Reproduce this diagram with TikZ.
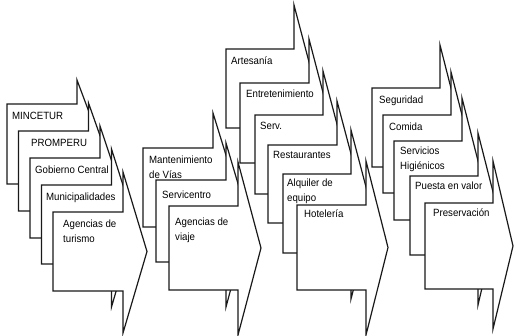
\documentclass[tikz,border=0pt]{standalone}
\usepackage{fontspec}
\setmainfont{Liberation Sans}[FakeStretch=0.92]
\tikzset{
  arrowbox/.style={draw=black!90, line width=1.2pt, fill=white, line join=miter},
  lbl/.style={anchor=north west, inner sep=0pt, align=left, font=\fontsize{10.5}{15}\selectfont}
}
% #1 x0, #2 y0, #3 w, #4 h, #5 top flange, #6 bottom flange, #7 head length
\newcommand{\carrow}[7]{%
  \draw[arrowbox] (#1,#2) -- ({#1+#3},#2) -- ({#1+#3},{#2-#5}) -- ({#1+#3+#7},{#2+#4/2}) -- ({#1+#3},{#2+#4+#6}) -- ({#1+#3},{#2+#4}) -- (#1,{#2+#4}) -- cycle;
}
\begin{document}
\begin{tikzpicture}[x=1pt,y=-1pt]
\useasboundingbox (0,0) rectangle (515,336);
% group 1
\carrow{7}{104}{70}{80}{24}{42}{24}
\node[lbl] (a1) at (12,112) {MINCETUR};
\carrow{18.5}{131}{70}{80}{28}{42}{24}
\node[lbl] (a2) at (31,139) {PROMPERU};
\carrow{30}{158}{70}{80}{32}{42}{24}
\node[lbl] (a3) at (35,166) {Gobierno Central};
\carrow{41.5}{185}{70}{79}{36}{43}{24}
\node[lbl] (a4) at (46,193) {Municipalidades};
\carrow{53}{212}{70}{79}{40}{42}{24}
\node[lbl] (a5) at (63,220) {Agencias de\\turismo};
% group 2
\carrow{143}{148}{70}{79}{35}{44}{23}
\node[lbl] (b1) at (149,156) {Mantenimiento\\de Vías};
\carrow{156}{180}{70}{82}{37}{45}{23}
\node[lbl] (b2) at (162,191) {Servicentro};
\carrow{169}{206}{69}{84}{44}{45}{23}
\node[lbl] (b3) at (175,218) {Agencias de\\viaje};
% group 3
\carrow{226}{49}{68}{79}{44}{44}{22}
\node[lbl] (c1) at (231,57) {Artesanía};
\carrow{240}{83}{69}{80}{44}{44}{22}
\node[lbl] (c2) at (246,90) {Entretenimiento};
\carrow{255}{115}{68}{79}{44}{44}{22}
\node[lbl] (c3) at (260,122) {Serv.};
\carrow{268}{145}{69}{78}{44}{44}{22}
\node[lbl] (c4) at (273,151) {Restaurantes};
\carrow{283}{174}{68}{79}{44}{46}{22}
\node[lbl] (c5) at (287,179) {Alquiler de\\equipo};
\carrow{297}{205}{69}{85}{44}{45}{22}
\node[lbl] (c6) at (304,210) {Hotelería};
% group 4
\carrow{372}{88}{68}{79}{43}{43}{21}
\node[lbl] (d1) at (379,96) {Seguridad};
\carrow{383}{115}{68}{78}{43}{43}{21}
\node[lbl] (d2) at (389,123) {Comida};
\carrow{394}{141}{68}{79}{43}{45}{21}
\node[lbl] (d3) at (400,147) {Servicios\\Higiénicos};
\carrow{410}{176}{68}{79}{43}{50}{21}
\node[lbl] (d4) at (415,182) {Puesta en valor};
\carrow{425}{203}{68}{86}{42}{40}{20}
\node[lbl] (d5) at (433,209) {Preservación};
\end{tikzpicture}
\end{document}
